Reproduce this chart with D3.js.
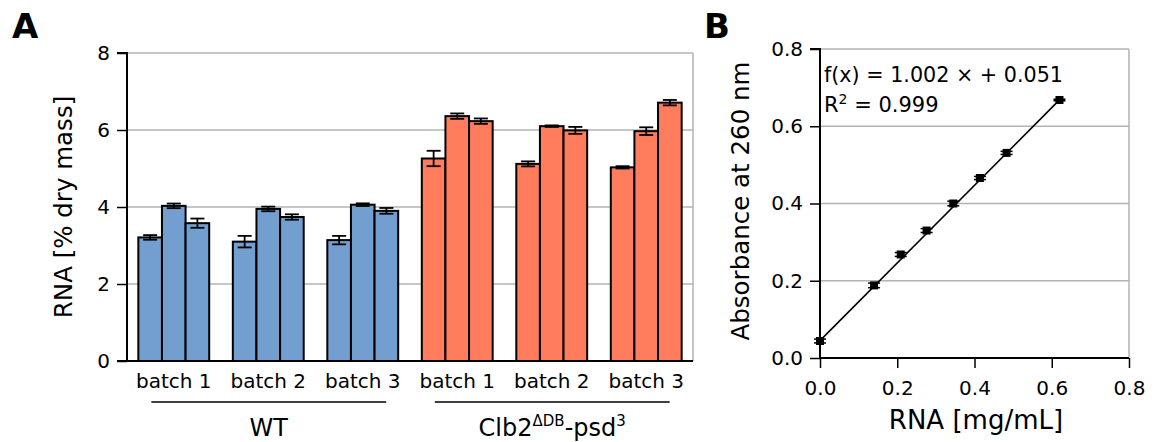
<!DOCTYPE html>
<html><head><meta charset="utf-8">
<script src="https://cdn.jsdelivr.net/npm/d3@7"></script>
<style>body{margin:0;background:#fff}svg{display:block;font-family:"DejaVu Sans",sans-serif}</style>
</head><body><svg id="c" width="1156" height="442"></svg>
<script>
// ---- Panel A data ----
const strains = ["WT", "Clb2ΔDB-psd3"];
const batches = ["batch 1", "batch 2", "batch 3"];
const groups = ["WT-1","WT-2","WT-3","C-1","C-2","C-3"];
const rnaMeans = [
  [3.21, 4.03, 3.58],
  [3.10, 3.95, 3.74],
  [3.14, 4.06, 3.90],
  [5.26, 6.36, 6.23],
  [5.12, 6.10, 5.99],
  [5.03, 5.97, 6.71]
];
const rnaErrs = [
  [0.06, 0.06, 0.12],
  [0.15, 0.06, 0.07],
  [0.11, 0.035, 0.075],
  [0.20, 0.07, 0.07],
  [0.065, 0.02, 0.09],
  [0.03, 0.10, 0.07]
];
const yTicksA = [0, 2, 4, 6, 8];
// ---- Panel B data ----
const conc = [0, 0.140, 0.209, 0.276, 0.345, 0.414, 0.483, 0.620];
const absorb = [0.044, 0.188, 0.268, 0.330, 0.400, 0.466, 0.531, 0.668];
const absErr = [0.005, 0.006, 0.005, 0.005, 0.006, 0.004, 0.004, 0.002];
const fitSlope = 1.002, fitIntercept = 0.051, fitR2 = 0.999;
const ticksB = [0, 0.2, 0.4, 0.6, 0.8];

const svg = d3.select("#c");
const grid = "#b3b3b3";
const colors = ["#729fcf", "#ff7c5c"];

// ===== Panel A =====
const xA = d3.scaleBand().domain(groups).range([127, 693]).paddingInner(0.25).paddingOuter(0.12);
const yA = d3.scaleLinear().domain([0, 8]).range([361, 53]);
const gA = svg.append("g");
gA.selectAll("line.g").data(yTicksA.filter(d => d > 0)).join("line")
  .attr("x1", 127).attr("x2", 693).attr("y1", d => yA(d)).attr("y2", d => yA(d))
  .attr("stroke", grid).attr("stroke-width", 1.5);
gA.append("line").attr("x1", 693).attr("x2", 693).attr("y1", yA(8)).attr("y2", yA(0))
  .attr("stroke", grid).attr("stroke-width", 1.5);
const inner = d3.scaleBand().domain([0,1,2]).range([0, xA.bandwidth()]);
groups.forEach((g, gi) => {
  const gg = gA.append("g").attr("transform", `translate(${xA(g)},0)`);
  rnaMeans[gi].forEach((v, i) => {
    gg.append("rect").attr("x", inner(i)).attr("width", inner.bandwidth())
      .attr("y", yA(v)).attr("height", yA(0) - yA(v))
      .attr("fill", colors[gi < 3 ? 0 : 1]).attr("stroke", "#000").attr("stroke-width", 2);
  });
  rnaMeans[gi].forEach((v, i) => {
    const cx = inner(i) + inner.bandwidth() / 2, e = rnaErrs[gi][i];
    const ep = gg.append("g").attr("stroke", "#000").attr("stroke-width", 1.8);
    ep.append("line").attr("x1", cx).attr("x2", cx).attr("y1", yA(v - e)).attr("y2", yA(v + e));
    ep.append("line").attr("x1", cx - 7).attr("x2", cx + 7).attr("y1", yA(v - e)).attr("y2", yA(v - e));
    ep.append("line").attr("x1", cx - 7).attr("x2", cx + 7).attr("y1", yA(v + e)).attr("y2", yA(v + e));
  });
});
const axA = gA.append("g").attr("transform", "translate(127,0)")
  .call(d3.axisLeft(yA).tickValues(yTicksA).tickSize(10).tickPadding(7).tickFormat(d3.format("d")));
axA.select(".domain").attr("stroke", "#000").attr("stroke-width", 2).attr("d", `M-10,${yA(8)}H0V${yA(0)}`);
axA.selectAll(".tick line").attr("stroke", "#000").attr("stroke-width", 1.5);
axA.selectAll(".tick text").attr("font-size", 20).attr("font-family", "DejaVu Sans").attr("fill", "#000");
gA.append("line").attr("x1", 117).attr("x2", 693).attr("y1", yA(0)).attr("y2", yA(0)).attr("stroke", "#000").attr("stroke-width", 2);
groups.forEach((g, gi) => {
  gA.append("text").attr("x", xA(g) + xA.bandwidth() / 2).attr("y", 388)
    .attr("text-anchor", "middle").attr("font-size", 20).text(batches[gi % 3]);
});
[[0, 2], [3, 5]].forEach(([a, b], si) => {
  const x1 = xA(groups[a]) + 13, x2 = xA(groups[b]) + xA.bandwidth() - 12;
  gA.append("line").attr("x1", x1).attr("x2", x2).attr("y1", 402).attr("y2", 402).attr("stroke", "#000").attr("stroke-width", 1.5);
  const t = gA.append("text").attr("x", (x1 + x2) / 2).attr("y", 436).attr("text-anchor", "middle").attr("font-size", 24);
  if (si === 0) t.text(strains[0]);
  else {
    t.append("tspan").text("Clb2");
    t.append("tspan").attr("font-size", 15).attr("dy", -10).text("ΔDB");
    t.append("tspan").attr("dy", 10).text("-psd");
    t.append("tspan").attr("font-size", 15).attr("dy", -10).text("3");
  }
});
gA.append("text").attr("transform", "translate(72,207) rotate(-90)").attr("text-anchor", "middle")
  .attr("font-size", 24.5).text("RNA [% dry mass]");
svg.append("text").attr("x", 12).attr("y", 38).attr("font-size", 34).attr("font-weight", "bold").text("A");

// ===== Panel B =====
const xB = d3.scaleLinear().domain([0, 0.8]).range([820, 1129]);
const yB = d3.scaleLinear().domain([0, 0.8]).range([358, 49]);
const gB = svg.append("g");
gB.selectAll("line.g").data(ticksB.filter(d => d > 0)).join("line")
  .attr("x1", 820).attr("x2", 1129).attr("y1", d => yB(d)).attr("y2", d => yB(d))
  .attr("stroke", grid).attr("stroke-width", 1.5);
gB.append("line").attr("x1", 1129).attr("x2", 1129).attr("y1", yB(0.8)).attr("y2", yB(0))
  .attr("stroke", grid).attr("stroke-width", 1.5);
const fmt = d3.format(".1f");
const axBy = gB.append("g").attr("transform", "translate(820,0)")
  .call(d3.axisLeft(yB).tickValues(ticksB).tickSize(10).tickPadding(7).tickFormat(fmt));
axBy.select(".domain").attr("stroke", "#000").attr("stroke-width", 2).attr("d", `M-10,${yB(0.8)}H0V${yB(0)}`);
const axBx = gB.append("g").attr("transform", "translate(0,358)")
  .call(d3.axisBottom(xB).tickValues(ticksB).tickSize(10).tickPadding(13).tickFormat(fmt));
axBx.select(".domain").attr("stroke", "#000").attr("stroke-width", 2).attr("d", `M${xB(0)},0H${xB(0.8)}`);
[axBy, axBx].forEach(ax => {
  ax.selectAll(".tick line").attr("stroke", "#000").attr("stroke-width", 1.5);
  ax.selectAll(".tick text").attr("font-size", 20).attr("font-family", "DejaVu Sans").attr("fill", "#000");
});
const xMax = d3.max(conc);
gB.append("line").attr("x1", xB(0)).attr("y1", yB(fitIntercept - 0.006))
  .attr("x2", xB(xMax)).attr("y2", yB(fitSlope * xMax + fitIntercept - 0.004))
  .attr("stroke", "#000").attr("stroke-width", 1.6);
conc.forEach((c, i) => {
  const cx = xB(c), cy = yB(absorb[i]), e = absErr[i];
  const ep = gB.append("g").attr("stroke", "#000").attr("stroke-width", 1.5);
  [absorb[i] - e, absorb[i] + e].forEach(v => ep.append("line")
    .attr("x1", cx - 6).attr("x2", cx + 6).attr("y1", yB(v)).attr("y2", yB(v)));
  gB.append("rect").attr("x", cx - 4).attr("y", cy - 4).attr("width", 8).attr("height", 8).attr("fill", "#000");
});
gB.append("text").attr("x", 824).attr("y", 82).attr("font-size", 20.7)
  .text(`f(x) = ${fitSlope.toFixed(3)} × + ${fitIntercept.toFixed(3)}`);
const r2 = gB.append("text").attr("x", 824).attr("y", 112).attr("font-size", 21);
r2.append("tspan").text("R");
r2.append("tspan").attr("font-size", 14).attr("dy", -8).text("2");
r2.append("tspan").attr("dy", 8).text(` = ${fitR2.toFixed(3)}`);
gB.append("text").attr("x", 976).attr("y", 429).attr("text-anchor", "middle").attr("font-size", 26).text("RNA [mg/mL]");
gB.append("text").attr("transform", "translate(749,201) rotate(-90)").attr("text-anchor", "middle")
  .attr("font-size", 24.5).text("Absorbance at 260 nm");
svg.append("text").attr("x", 704).attr("y", 38).attr("font-size", 34).attr("font-weight", "bold").text("B");
</script></body></html>
